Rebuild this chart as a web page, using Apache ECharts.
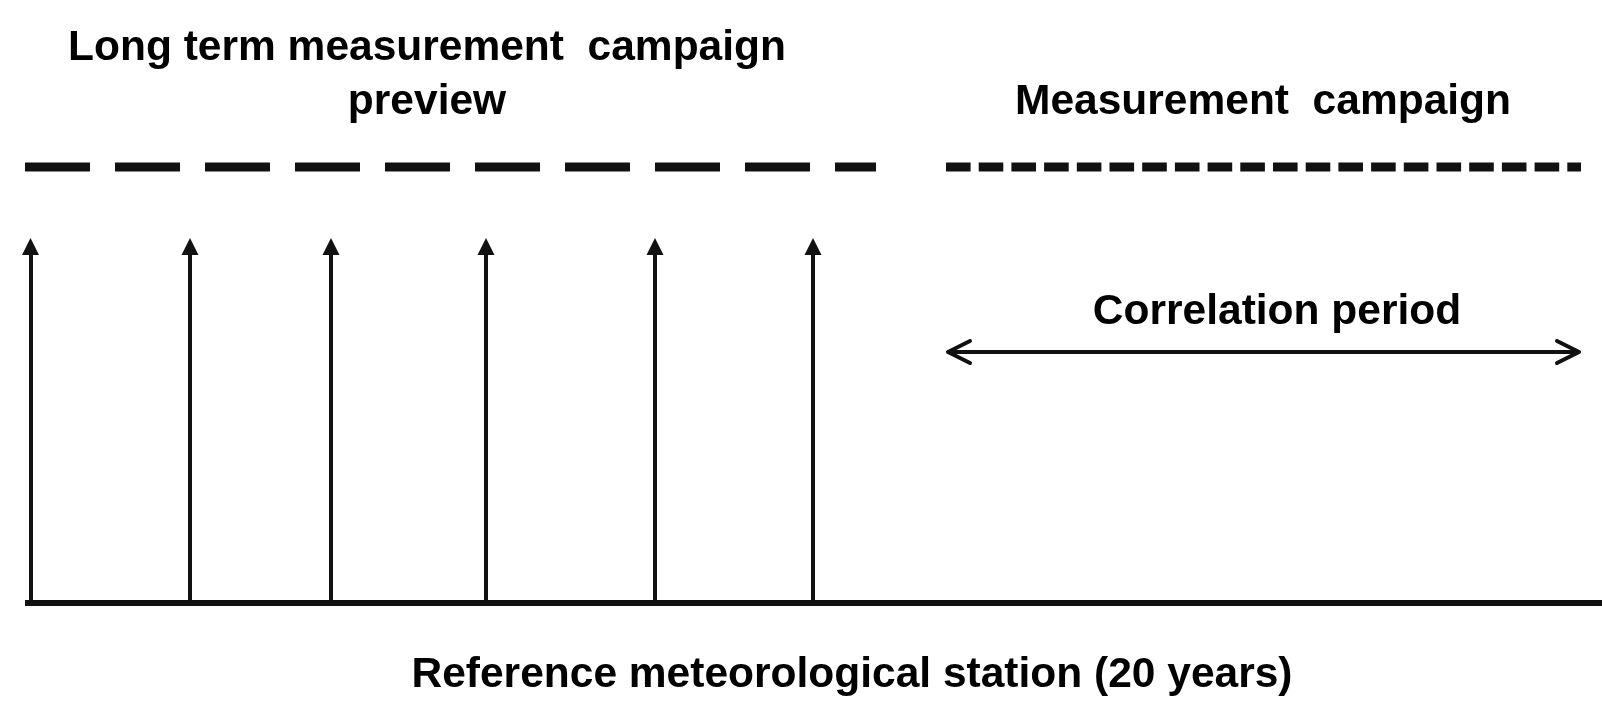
<!DOCTYPE html>
<html>
<head>
<meta charset="utf-8">
<script src="https://cdn.jsdelivr.net/npm/echarts@6/dist/echarts.min.js"></script>
<style>html,body{margin:0;padding:0;background:#fff}#c{width:1602px;height:704px}</style>
</head>
<body>
<div id="c"></div>
<script>
// Diagram data (pixel-space units on a 1602 x 704 value grid)
const baseLineX = [25, 1602];
const baseLineY = 603;
const stationArrowX = [30.5, 190, 331, 486, 655, 813];
const arrowTipY = 238;
const previewDashX = [25, 876];
const campaignDashX = [946, 1581];
const dashY = 167;
const correlationX = [948, 1579];
const correlationY = 352;
const labels = [
  { name: 'Long term measurement  campaign', x: 427, y: 48 },
  { name: 'preview', x: 427, y: 102 },
  { name: 'Measurement  campaign', x: 1263, y: 102 },
  { name: 'Correlation period', x: 1277, y: 312 },
  { name: 'Reference meteorological station (20 years)', x: 852, y: 675 }
];

const ink = '#111111';
const headLen = 17;
const chevDx = 22, chevDy = 11;

const option = {
  animation: false,
  backgroundColor: '#fff',
  grid: { left: 0, right: 0, top: 0, bottom: 0 },
  xAxis: { type: 'value', min: 0, max: 1602, show: false },
  yAxis: { type: 'value', min: 0, max: 704, inverse: true, show: false },
  series: [
    {
      type: 'line', silent: true, symbol: 'none',
      data: baseLineX.map(x => [x, baseLineY]),
      lineStyle: { color: ink, width: 6 }
    },
    {
      type: 'line', silent: true, symbol: 'none',
      data: previewDashX.map(x => [x, dashY]),
      lineStyle: { color: ink, width: 9, type: [65, 25], cap: 'butt' }
    },
    {
      type: 'line', silent: true, symbol: 'none',
      data: campaignDashX.map(x => [x, dashY]),
      lineStyle: { color: ink, width: 9, type: [24.6, 8.1], cap: 'butt' }
    },
    {
      type: 'lines', coordinateSystem: 'cartesian2d', silent: true,
      symbol: ['none', 'triangle'], symbolSize: [17, headLen],
      lineStyle: { color: ink, width: 4, opacity: 1 },
      data: stationArrowX.map(x => ({ coords: [[x, baseLineY], [x, arrowTipY + headLen / 2]] }))
    },
    {
      type: 'lines', coordinateSystem: 'cartesian2d', polyline: true, silent: true,
      lineStyle: { color: ink, width: 4, opacity: 1, join: 'round', cap: 'round' },
      data: [
        { coords: [[correlationX[0] + 2, correlationY], [correlationX[1] - 2, correlationY]] },
        { coords: [[correlationX[0] + chevDx, correlationY - chevDy], [correlationX[0], correlationY], [correlationX[0] + chevDx, correlationY + chevDy]] },
        { coords: [[correlationX[1] - chevDx, correlationY - chevDy], [correlationX[1], correlationY], [correlationX[1] - chevDx, correlationY + chevDy]] }
      ]
    },
    {
      type: 'scatter', silent: true, symbolSize: 0,
      itemStyle: { opacity: 1 },
      data: labels.map(l => ({ name: l.name, value: [l.x, l.y] })),
      label: {
        show: true, position: 'inside', formatter: p => p.name,
        fontFamily: '"Liberation Sans", Arial, sans-serif',
        fontWeight: 'bold', fontSize: 42.5, color: '#000', opacity: 1
      }
    }
  ]
};
const chart = echarts.init(document.getElementById('c'), null, { renderer: 'canvas' });
chart.setOption(option);
</script>
</body>
</html>
